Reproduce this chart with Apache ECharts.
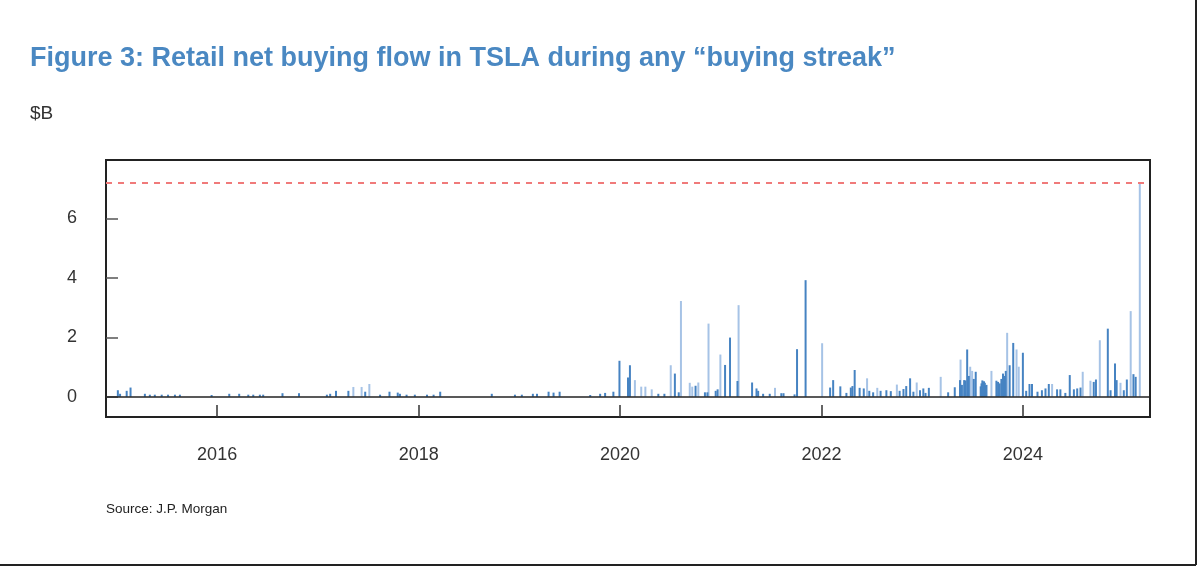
<!DOCTYPE html>
<html>
<head>
<meta charset="utf-8">
<script src="https://cdn.jsdelivr.net/npm/echarts@6.0.0/dist/echarts.min.js"></script>
<style>
html,body{margin:0;padding:0;background:#fff;}
#chart{width:1200px;height:567px;}
</style>
</head>
<body>
<div id="chart"></div>
<script>
// Tick labels
const yearTicks = [2016, 2018, 2020, 2022, 2024];
const valueTicks = [0, 2, 4, 6];

// Series A (darker bars): dates and values in $B
const darkDates = [
 '2015-01-06','2015-01-14','2015-02-07','2015-02-21','2015-04-14','2015-05-02','2015-05-20','2015-06-14','2015-07-07','2015-08-01','2015-08-19','2015-12-12',
 '2016-02-14','2016-03-21','2016-04-23','2016-05-11','2016-06-04','2016-06-16','2016-08-25','2016-10-24',
 '2017-02-02','2017-02-14','2017-03-07','2017-04-21','2017-06-21','2017-08-14','2017-09-17','2017-10-17','2017-10-25','2017-11-18','2017-12-18',
 '2018-01-31','2018-02-24','2018-03-20','2018-09-23','2018-12-16',
 '2019-01-10','2019-02-19','2019-03-06','2019-04-17','2019-05-05','2019-05-27','2019-09-15','2019-10-21','2019-11-08','2019-12-08','2019-12-30',
 '2020-01-30','2020-02-06','2020-05-19','2020-06-10','2020-07-18','2020-08-01','2020-10-01','2020-11-04','2020-11-13','2020-12-13','2020-12-20',
 '2021-01-16','2021-02-03','2021-03-02','2021-04-24','2021-05-10','2021-05-16','2021-06-03','2021-06-27','2021-08-08','2021-08-16','2021-09-25','2021-10-04','2021-11-04',
 '2022-02-01','2022-02-12','2022-03-10','2022-04-01','2022-04-17','2022-04-23','2022-05-01','2022-05-19','2022-06-03','2022-06-23','2022-07-07','2022-08-03','2022-08-24','2022-09-09','2022-10-11','2022-10-25','2022-11-04','2022-11-18','2022-11-30','2022-12-24',
 '2023-01-05','2023-01-13','2023-01-25','2023-04-05','2023-04-29','2023-05-18','2023-05-25','2023-06-02','2023-06-07','2023-06-13','2023-06-19','2023-07-07','2023-07-14','2023-08-01','2023-08-04','2023-08-07','2023-08-10','2023-08-13','2023-08-16','2023-08-19','2023-08-22','2023-09-27','2023-10-03','2023-10-09','2023-10-15','2023-10-21','2023-10-25','2023-10-31','2023-11-14','2023-11-27',
 '2024-01-01','2024-01-13','2024-01-25','2024-02-03','2024-02-23','2024-03-10','2024-03-23','2024-04-04','2024-05-04','2024-05-16','2024-06-03','2024-06-19','2024-07-04','2024-07-16','2024-07-28','2024-09-14','2024-09-22','2024-11-04','2024-11-14','2024-11-30','2024-12-06',
 '2025-01-01','2025-01-12','2025-02-05','2025-02-13'
];
const darkValues = [
 0.22,0.10,0.20,0.31,0.10,0.07,0.07,0.07,0.07,0.07,0.07,0.06,
 0.10,0.10,0.07,0.07,0.07,0.07,0.12,0.12,
 0.07,0.10,0.20,0.20,0.17,0.07,0.17,0.14,0.10,0.07,0.07,
 0.07,0.07,0.17,0.10,0.07,
 0.07,0.10,0.10,0.17,0.14,0.17,0.06,0.10,0.13,0.17,1.21,
 0.65,1.06,0.10,0.10,0.78,0.15,0.37,0.15,0.15,0.20,0.25,
 1.07,1.99,0.53,0.48,0.28,0.20,0.10,0.10,0.12,0.12,0.08,1.60,3.92,
 0.31,0.56,0.35,0.13,0.31,0.36,0.90,0.30,0.28,0.20,0.15,0.20,0.22,0.19,0.20,0.26,0.36,0.62,0.17,0.22,
 0.28,0.13,0.30,0.15,0.32,0.56,0.40,0.56,0.55,1.59,0.70,0.60,0.84,0.35,0.45,0.55,0.50,0.52,0.47,0.38,0.40,0.54,0.50,0.45,0.60,0.78,0.70,0.87,1.06,1.81,
 1.48,0.20,0.43,0.43,0.17,0.22,0.28,0.43,0.25,0.25,0.13,0.73,0.25,0.28,0.31,0.50,0.58,2.29,0.22,1.12,0.56,
 0.22,0.58,0.76,0.67
];

// Series B (lighter bars): dates and values in $B
const lightDates = [
 '2017-05-09','2017-06-08','2017-07-06',
 '2020-02-24','2020-03-18','2020-04-02','2020-04-25','2020-07-03','2020-08-09','2020-09-10','2020-09-19','2020-10-11','2020-11-17','2020-12-30',
 '2021-03-06','2021-07-16',
 '2022-01-03','2022-06-15','2022-07-22','2022-10-01','2022-12-12',
 '2023-03-09','2023-05-20','2023-06-24','2023-07-01','2023-09-09','2023-11-05','2023-12-09','2023-12-17',
 '2024-04-16','2024-08-05','2024-09-02','2024-10-06','2024-12-20',
 '2025-01-26','2025-02-28'
];
const lightValues = [
 0.33,0.33,0.43,
 0.56,0.34,0.34,0.25,1.06,3.22,0.47,0.34,0.48,2.46,1.42,
 3.08,0.30,
 1.80,0.62,0.30,0.41,0.48,
 0.67,1.25,1.01,0.87,0.87,2.15,1.59,1.01,
 0.43,0.84,0.54,1.90,0.47,
 2.88,7.21
];

function ts(s){ const p = s.split('-').map(Number); return Date.UTC(p[0], p[1]-1, p[2]); }
function pairs(d, v){ return d.map((x,i)=>[ts(x), v[i]]); }
const tickTimes = yearTicks.map(y => Date.UTC(y, 0, 1));
const FONT = '"Liberation Sans", Arial, sans-serif';

const chart = echarts.init(document.getElementById('chart'), null, {renderer:'canvas'});
chart.setOption({
  animation: false,
  backgroundColor: '#fff',
  title: {
    text: 'Figure 3: Retail net buying flow in TSLA during any \u201cbuying streak\u201d',
    left: 25, top: 40,
    textStyle: {fontFamily: FONT, fontSize: 27, fontWeight: 'bold', color: '#4a88c2'}
  },
  graphic: [
    {type:'text', left: 30, top: 104, style:{text:'$B', font:'19px ' + FONT, fill:'#333'}},
    {type:'text', left: 106, top: 502, style:{text:'Source: J.P. Morgan', font:'13.5px ' + FONT, fill:'#222'}},
    {type:'line', shape:{x1:1196, y1:0, x2:1196, y2:565}, style:{stroke:'#222', lineWidth:2}},
    {type:'line', shape:{x1:0, y1:565, x2:1196, y2:565}, style:{stroke:'#222', lineWidth:2}}
  ],
  grid: {left: 106, right: 50, top: 160, bottom: 150, show: true, borderColor: '#222', borderWidth: 2, backgroundColor: 'transparent'},
  xAxis: {
    type: 'value',
    min: ts('2014-11-24'), max: ts('2025-04-06'),
    axisLine: {show: false, onZero: false},
    splitLine: {show: false},
    axisTick: {show: true, inside: true, length: 12, customValues: tickTimes, lineStyle:{color:'#333', width:1.5}},
    axisLabel: {customValues: tickTimes, margin: 29, fontFamily: FONT, fontSize: 18, color: '#333',
      formatter: v => String(new Date(v).getUTCFullYear())}
  },
  yAxis: {
    type: 'value',
    min: -0.68, max: 7.96,
    axisLine: {show: false},
    splitLine: {show: false},
    axisTick: {show: true, inside: true, length: 12, customValues: valueTicks, lineStyle:{color:'#555', width:1.5}},
    axisLabel: {customValues: valueTicks, margin: 29, fontFamily: FONT, fontSize: 18, color: '#333'}
  },
  series: [
    {
      name: 'B', type: 'bar', barWidth: 2, barGap: '-100%',
      data: pairs(lightDates, lightValues),
      itemStyle: {color: '#a6c3e6'},
      markLine: {
        silent: true, symbol: 'none', label: {show: false},
        data: [
          {type: 'max', valueDim: 'y', lineStyle: {color: '#f07a7a', type: [6, 6], width: 2}},
          {yAxis: 0, lineStyle: {color: '#222', type: 'solid', width: 1.5}}
        ]
      }
    },
    {
      name: 'A', type: 'bar', barWidth: 2, barGap: '-100%',
      data: pairs(darkDates, darkValues),
      itemStyle: {color: '#4683c2'}
    }
  ]
});
</script>
</body>
</html>
